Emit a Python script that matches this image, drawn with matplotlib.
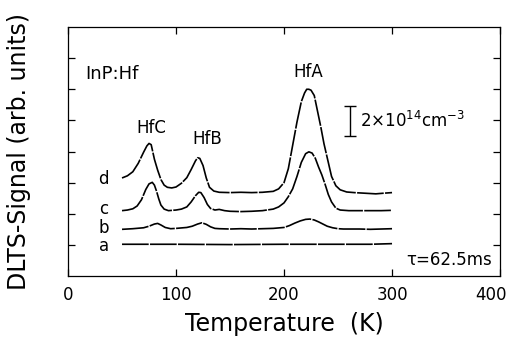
import matplotlib.pyplot as plt
from matplotlib.transforms import ScaledTranslation

# DLTS spectra of InP:Hf, four samples (a-d), rate window tau = 62.5 ms
temp_a = [50, 100, 150, 200, 250, 280, 300]
sig_a = [1.02, 1.02, 1.01, 1.02, 1.02, 1.02, 1.04]

temp_b = [50, 60, 70, 75, 80, 83, 86, 90, 95, 100, 110, 115, 120, 124, 128, 132, 136,
          140, 150, 160, 170, 180, 190, 200, 205, 210, 215, 220, 224, 228, 232, 236,
          240, 245, 250, 255, 260, 270, 280, 290, 300]
sig_b = [1.50, 1.52, 1.55, 1.60, 1.67, 1.69, 1.64, 1.56, 1.52, 1.53, 1.56, 1.60, 1.67,
         1.71, 1.66, 1.58, 1.53, 1.52, 1.51, 1.52, 1.51, 1.52, 1.53, 1.56, 1.62, 1.70,
         1.77, 1.82, 1.83, 1.80, 1.74, 1.67, 1.60, 1.55, 1.52, 1.51, 1.51, 1.51, 1.50,
         1.51, 1.52]

temp_c = [50, 55, 60, 64, 68, 72, 75, 78, 80, 82, 84, 86, 89, 93, 100, 105, 110, 114,
          118, 121, 123, 126, 129, 132, 136, 140, 145, 150, 160, 170, 180, 190, 195,
          200, 204, 208, 212, 216, 220, 223, 226, 229, 232, 235, 238, 241, 244, 248,
          252, 260, 270, 280, 290, 300]
sig_c = [2.10, 2.12, 2.16, 2.25, 2.45, 2.78, 2.96, 3.01, 2.92, 2.72, 2.48, 2.28, 2.15,
         2.10, 2.12, 2.15, 2.22, 2.38, 2.58, 2.69, 2.68, 2.52, 2.30, 2.17, 2.12, 2.14,
         2.10, 2.08, 2.07, 2.08, 2.10, 2.15, 2.22, 2.35, 2.55, 2.80, 3.20, 3.65, 3.93,
         3.99, 3.95, 3.78, 3.50, 3.25, 2.95, 2.62, 2.38, 2.18, 2.12, 2.10, 2.10, 2.10,
         2.10, 2.11]

temp_d = [50, 55, 60, 65, 70, 73, 75, 77, 80, 83, 86, 89, 92, 96, 100, 105, 110, 114,
          118, 120, 122, 125, 128, 131, 135, 140, 150, 160, 170, 180, 190, 195, 200,
          204, 208, 212, 216, 219, 221, 223, 225, 228, 231, 234, 237, 240, 244, 248,
          252, 258, 265, 275, 285, 292, 300]
sig_d = [3.15, 3.22, 3.35, 3.62, 3.98, 4.18, 4.26, 4.22, 3.75, 3.40, 3.10, 2.92, 2.85,
         2.83, 2.86, 2.98, 3.16, 3.42, 3.70, 3.80, 3.78, 3.55, 3.15, 2.85, 2.73, 2.69,
         2.68, 2.69, 2.68, 2.69, 2.72, 2.80, 3.00, 3.45, 4.20, 4.95, 5.60, 5.88, 6.00,
         6.00, 5.97, 5.80, 5.30, 4.80, 4.25, 3.80, 3.20, 2.90, 2.77, 2.70, 2.68, 2.66,
         2.64, 2.66, 2.68]

series = [('a', temp_a, sig_a, 0.95),
          ('b', temp_b, sig_b, 1.54),
          ('c', temp_c, sig_c, 2.16),
          ('d', temp_d, sig_d, 3.13)]

plt.rcParams['font.family'] = 'DejaVu Sans'

fig = plt.figure(figsize=(5.13, 3.43), dpi=100)
ax = fig.add_axes([0.1326, 0.1953, 0.8421, 0.7259])

for name, t, s, ylab in series:
    ax.plot(t, s, color='black', lw=1.2, linestyle=(0, (16, 0.8)))
    ax.text(33, ylab, name, fontsize=12, ha='center', va='center')

ax.set_xlim(0, 400)
ax.set_ylim(0, 8)
ax.set_xticks([0, 100, 200, 300, 400])
ax.set_yticks(range(1, 8))
ax.set_yticklabels([])
ax.tick_params(direction='in', length=5, width=0.9, top=True, right=True,
               labelsize=12, pad=7)
for sp in ax.spines.values():
    sp.set_linewidth(0.9)

# keep the last tick label inside the figure
last = ax.get_xticklabels()[-1]
last.set_ha('right')
last.set_transform(last.get_transform() + ScaledTranslation(7 / 100, 0, fig.dpi_scale_trans))

ax.set_xlabel('Temperature  (K)', fontsize=17, labelpad=6)
ax.set_ylabel('DLTS-Signal (arb. units)', fontsize=17, labelpad=20)

ax.text(16, 6.5, 'InP:Hf', fontsize=13, va='center')
ax.text(77, 4.75, 'HfC', fontsize=12, ha='center', va='center')
ax.text(129, 4.4, 'HfB', fontsize=12, ha='center', va='center')
ax.text(222, 6.55, 'HfA', fontsize=12, ha='center', va='center')

# concentration scale bar
ax.errorbar([261.5], [4.98], yerr=[[0.48], [0.48]], color='black', lw=1.0,
            capsize=4, capthick=1.0)
ax.text(270, 4.98, '2×10$^{14}$cm$^{-3}$', fontsize=12, va='center')

ax.text(393, 0.52, 'τ=62.5ms', fontsize=12, ha='right', va='center')

fig.savefig('out.png', dpi=100)
